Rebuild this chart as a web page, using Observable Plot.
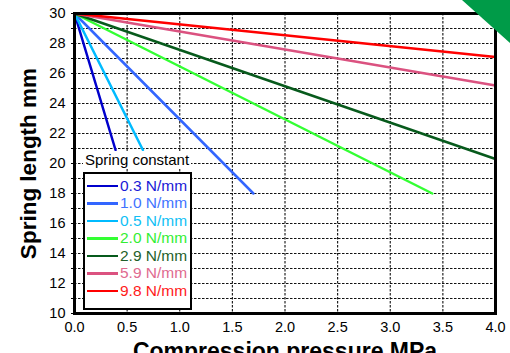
<!DOCTYPE html>
<html><head><meta charset="utf-8">
<script src="https://cdn.jsdelivr.net/npm/d3@7"></script>
<script src="https://cdn.jsdelivr.net/npm/@observablehq/plot@0.6"></script>
<style>
body{margin:0;background:#fff;}
#wrap{position:relative;width:510px;height:353px;overflow:hidden;font-family:"Liberation Sans",Arial,sans-serif;}
#corner{position:absolute;left:0;top:0;width:510px;height:353px;pointer-events:none;}
#legtitle{position:absolute;left:83px;top:151px;width:108px;height:18px;background:#fff;font-size:15px;line-height:18px;text-align:center;color:#000;}
#legend{position:absolute;left:83px;top:172px;width:105px;height:131px;border:2px solid #000;background:#fff;padding-top:3px;box-sizing:content-box;}
.row{height:17.5px;display:flex;align-items:center;font-size:15.5px;white-space:nowrap;}
.row .sw{width:31px;height:2.5px;margin-left:2px;margin-right:2px;}
</style></head><body><div id="wrap"></div>
<script>
const springConstants = ["0.3 N/mm","1.0 N/mm","0.5 N/mm","2.0 N/mm","2.9 N/mm","5.9 N/mm","9.8 N/mm"];
const lineColors = ["#0000cc","#3366ff","#00bbff","#33ff33","#075a1c","#db5280","#ff0000"];
const textColors = ["#1a1ad6","#3f73ff","#11bff5","#33ee33","#1f5f2a","#e06a8f","#ff1a1a"];
const startPressure = 0;
const startLength = 30;
const endPressure = [0.39, 1.70, 0.65, 3.40, 4.0, 4.0, 4.0];
const endLength = [20.9, 18.0, 20.9, 18.0, 20.3, 25.2, 27.1];
const xTicks = [0, 0.5, 1.0, 1.5, 2.0, 2.5, 3.0, 3.5, 4.0];
const yGrid = [10,11,12,13,14,15,16,17,18,19,20,21,22,23,24,25,26,27,28,29,30];
const yLabels = [10,12,14,16,18,20,22,24,26,28,30];

const rows = [];
springConstants.forEach((k, i) => {
  rows.push({k, p: startPressure, len: startLength});
  rows.push({k, p: endPressure[i], len: endLength[i]});
});

const chart = Plot.plot({
  width: 510, height: 353,
  marginLeft: 74, marginRight: 15, marginTop: 13, marginBottom: 40,
  style: {fontFamily: "Liberation Sans, Arial, sans-serif", fontSize: "14.5px", background: "white", color: "black", overflow: "hidden"},
  x: {domain: [0, 4], ticks: xTicks, tickFormat: d3.format(".1f"), tickSize: 0, tickPadding: 8, label: null},
  y: {domain: [10, 30], ticks: yGrid, tickFormat: d => yLabels.includes(d) ? String(d) : "", tickSize: 3, tickPadding: 6, label: null},
  color: {domain: springConstants, range: lineColors},
  marks: [
    Plot.ruleY(yGrid, {stroke: "#111", strokeWidth: 1.1, strokeDasharray: "2.5,1.5"}),
    Plot.ruleX(xTicks, {stroke: "#111", strokeWidth: 1.1, strokeDasharray: "2.5,1.5"}),
    Plot.line(rows, {x: "p", y: "len", z: "k", stroke: "k", strokeWidth: 2.5}),
    Plot.frame({stroke: "black", strokeWidth: 3}),
    Plot.text(["Compression pressure MPa"], {frameAnchor: "bottom", dy: 45, fontSize: 23, fontWeight: "bold", lineAnchor: "bottom", textAnchor: "middle"}),
    Plot.text(["Spring length mm"], {frameAnchor: "left", dx: -46, rotate: -90, fontSize: 22.5, fontWeight: "bold", textAnchor: "middle"})
  ]
});
const wrap = document.getElementById("wrap");
wrap.appendChild(chart);

const corner = document.createElementNS("http://www.w3.org/2000/svg", "svg");
corner.setAttribute("id", "corner");
corner.innerHTML = '<polygon points="462,0 510,0 510,43" fill="#009b48"/>';
wrap.appendChild(corner);

const title = document.createElement("div");
title.id = "legtitle";
title.textContent = "Spring constant";
wrap.appendChild(title);

const legend = document.createElement("div");
legend.id = "legend";
springConstants.forEach((k, i) => {
  const r = document.createElement("div");
  r.className = "row";
  const sw = document.createElement("div");
  sw.className = "sw";
  sw.style.background = lineColors[i];
  const t = document.createElement("span");
  t.textContent = k;
  t.style.color = textColors[i];
  r.appendChild(sw); r.appendChild(t);
  legend.appendChild(r);
});
wrap.appendChild(legend);
</script></body></html>
